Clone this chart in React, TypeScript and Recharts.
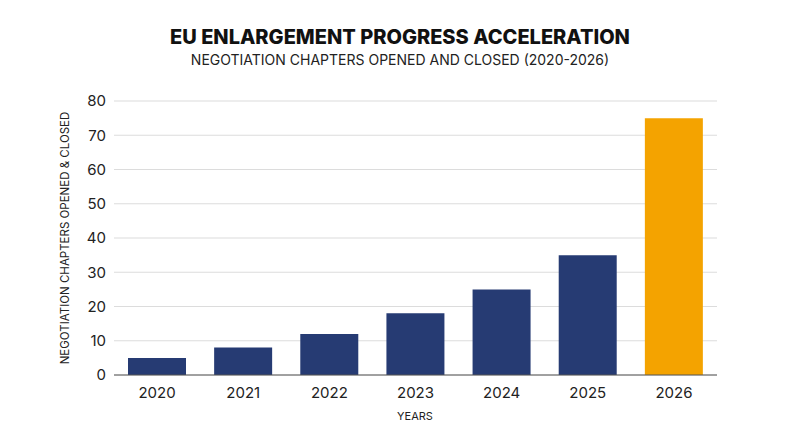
import React from 'react';
import { Bar, BarChart, CartesianGrid, Cell, XAxis, YAxis } from 'recharts';

const years = ['2020', '2021', '2022', '2023', '2024', '2025', '2026'];
const chapters = [5, 8, 12, 18, 25, 35, 75];
const yTicks = [0, 10, 20, 30, 40, 50, 60, 70, 80];

const NAVY = '#263b73';
const ORANGE = '#f4a300';
const FONT = 'Inter, "Noto Sans", sans-serif';

const chartData = years.map((y, i) => ({ year: y, value: chapters[i] }));

const App: React.FC = () => {
  return (
    <div style={{ position: 'relative', width: 800, height: 447, margin: -8, background: '#fff', fontFamily: FONT }}>
      <div style={{ position: 'absolute', top: 25, left: 0, width: 800, textAlign: 'center', fontSize: 20, fontWeight: 800, color: '#111' }}>
        EU ENLARGEMENT PROGRESS ACCELERATION
      </div>
      <div style={{ position: 'absolute', top: 51, left: 0, width: 800, textAlign: 'center', fontSize: 14, color: '#222' }}>
        NEGOTIATION CHAPTERS OPENED AND CLOSED (2020-2026)
      </div>
      <div style={{ position: 'absolute', left: 65, top: 238, transform: 'translate(-50%, -50%) rotate(-90deg)', whiteSpace: 'nowrap', fontSize: 11.5, color: '#222' }}>
        NEGOTIATION CHAPTERS OPENED &amp; CLOSED
      </div>
      <div style={{ position: 'absolute', left: 415, top: 416, transform: 'translate(-50%, -50%)', fontSize: 11, color: '#222' }}>
        YEARS
      </div>
      <div style={{ position: 'absolute', left: 0, top: 0 }}>
        <BarChart width={800} height={447} data={chartData} margin={{ top: 101, right: 83, bottom: 42, left: 74 }} barSize={58}>
          <CartesianGrid vertical={false} stroke="#dcdcdc" strokeWidth={1.2} />
          <XAxis dataKey="year" axisLine={{ stroke: '#555' }} tickLine={false} tickMargin={6} height={30} tick={{ fontSize: 15, fill: '#222', fontFamily: FONT }} />
          <YAxis domain={[0, 80]} ticks={yTicks} axisLine={false} tickLine={false} width={40} tick={{ fontSize: 15, fill: '#222', fontFamily: FONT }} />
          <Bar dataKey="value" isAnimationActive={false}>
            {chartData.map((d, i) => (
              <Cell key={d.year} fill={i === chartData.length - 1 ? ORANGE : NAVY} />
            ))}
          </Bar>
        </BarChart>
      </div>
    </div>
  );
};

export default App;
